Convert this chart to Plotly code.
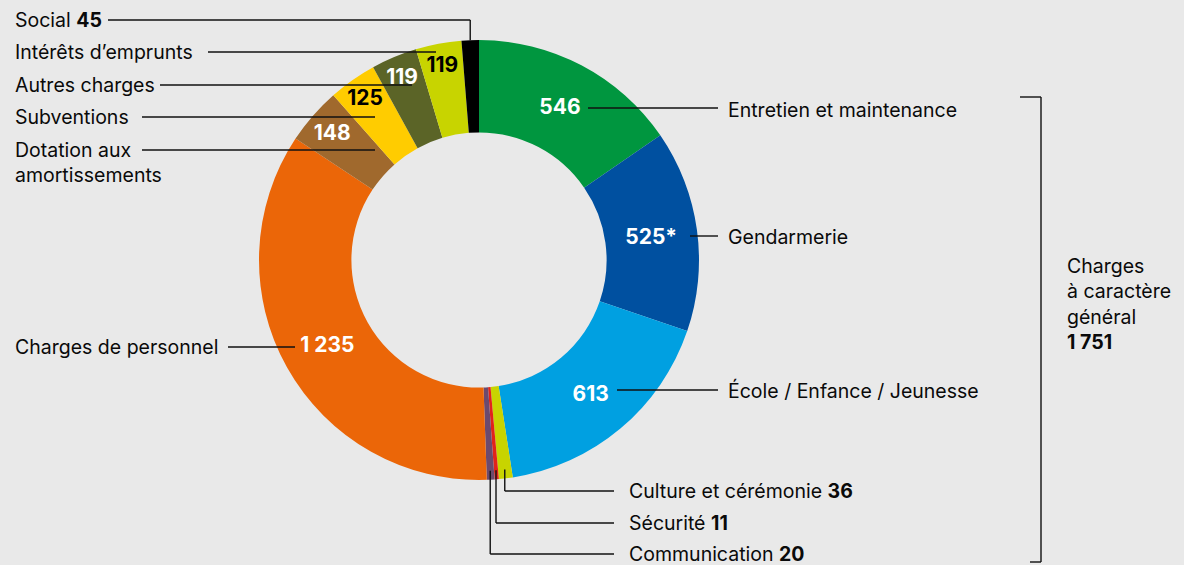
import math
import plotly.graph_objects as go

# ---- data ----
categories = ["Entretien et maintenance", "Gendarmerie", "École / Enfance / Jeunesse",
              "Culture et cérémonie", "Sécurité", "Communication",
              "Charges de personnel", "Dotation aux amortissements", "Subventions",
              "Autres charges", "Intérêts d’emprunts", "Social"]
values = [546, 525, 613, 36, 11, 20, 1235, 148, 125, 119, 119, 45]
slice_text = ["546", "525*", "613", "", "", "", "1 235", "148", "125", "119", "119", ""]
colors = ["#00963f", "#0050a0", "#00a0e1", "#c8d400", "#e2231a", "#6b4a6e",
          "#eb6608", "#a0692d", "#ffcc00", "#5b6427", "#c8d400", "#000000"]
text_colors = ["white", "white", "white", "white", "white", "white",
               "white", "white", "black", "white", "black", "white"]
group_label = "Charges<br>à caractère<br>général<br><b>1 751</b>"

W, H = 1184, 565
BG = "#e9e9e9"
FONT = "Inter"
CX, CY, R = 479, 260, 220
HOLE = 0.58
LSIZE = 19.5


def px(x):
    return x / W


def py(y):
    return 1 - y / H


def mid_angle(i):
    tot = sum(values)
    cum = sum(values[:i]) + values[i] / 2
    return cum / tot * 2 * math.pi  # clockwise from 12 o'clock


def slice_point(i, r):
    a = mid_angle(i)
    return CX + r * math.sin(a), CY - r * math.cos(a)


fig = go.Figure(go.Pie(
    labels=categories, values=values, text=slice_text, textinfo="text",
    sort=False, direction="clockwise", rotation=0, hole=HOLE,
    marker=dict(colors=colors, line=dict(width=0)),
    textposition="inside", insidetextorientation="horizontal",
    textfont=dict(family=FONT, size=21, color=text_colors, weight="bold"),
    hoverinfo="label+value", showlegend=False,
    domain=dict(x=[px(CX - R), px(CX + R)], y=[py(CY + R), py(CY - R)]),
))

shapes = []
annotations = []


def line(x0, y0, x1, y1):
    shapes.append(dict(type="line", xref="paper", yref="paper",
                       x0=px(x0), y0=py(y0), x1=px(x1), y1=py(y1),
                       line=dict(color="#111111", width=1.4)))


def label(x, y, txt, anchor="left"):
    annotations.append(dict(x=px(x), y=py(y), xref="paper", yref="paper",
                            text=txt, showarrow=False, xanchor=anchor, yanchor="middle",
                            align="left",
                            font=dict(family=FONT, size=LSIZE, color="#0a0a0a")))


# right-side labels
label(726, 110, categories[0]); line(588, 108, 718, 108)
label(726, 237, categories[1]); line(690, 236, 718, 236)
label(726, 390, categories[2]); line(617, 390, 718, 390)

# bottom small slices
for i, ylab in [(3, 491), (4, 523), (5, 554)]:
    sx, sy = slice_point(i, R - 9)
    label(627, ylab, f"{categories[i]} <b>{values[i]}</b>")
    line(sx, sy, sx, ylab)
    line(sx, ylab, 614, ylab)

# left labels
sx, sy = slice_point(11, R)
label(13, 20, f"{categories[11]} <b>{values[11]}</b>")
line(108, 20, sx, 20); line(sx, 20, sx, sy)
label(13, 52, categories[10]); line(208, 52, 436, 52)
label(13, 85, categories[9]); line(160, 85, 412, 85)
label(13, 117, categories[8]); line(142, 117, 375, 117)
label(13, 162, "Dotation aux<br>amortissements"); line(142, 150, 375, 150)
label(13, 347, categories[6]); line(228, 347, 295, 347)

# bracket for "charges à caractère général"
line(1020, 97, 1041, 97)
line(1041, 97, 1041, 562)
line(1030, 562, 1041, 562)
annotations.append(dict(x=px(1065), y=py(304), xref="paper", yref="paper",
                        text=group_label, showarrow=False, xanchor="left",
                        yanchor="middle", align="left",
                        font=dict(family=FONT, size=LSIZE, color="#0a0a0a")))

fig.update_layout(
    width=W, height=H, margin=dict(l=0, r=0, t=0, b=0),
    paper_bgcolor=BG, plot_bgcolor=BG,
    shapes=shapes, annotations=annotations,
    uniformtext=dict(minsize=21, mode="show"),
)
fig.write_html("out.html", config={"displayModeBar": False},
               post_script="document.body.style.margin='0';document.body.style.padding='0';")
